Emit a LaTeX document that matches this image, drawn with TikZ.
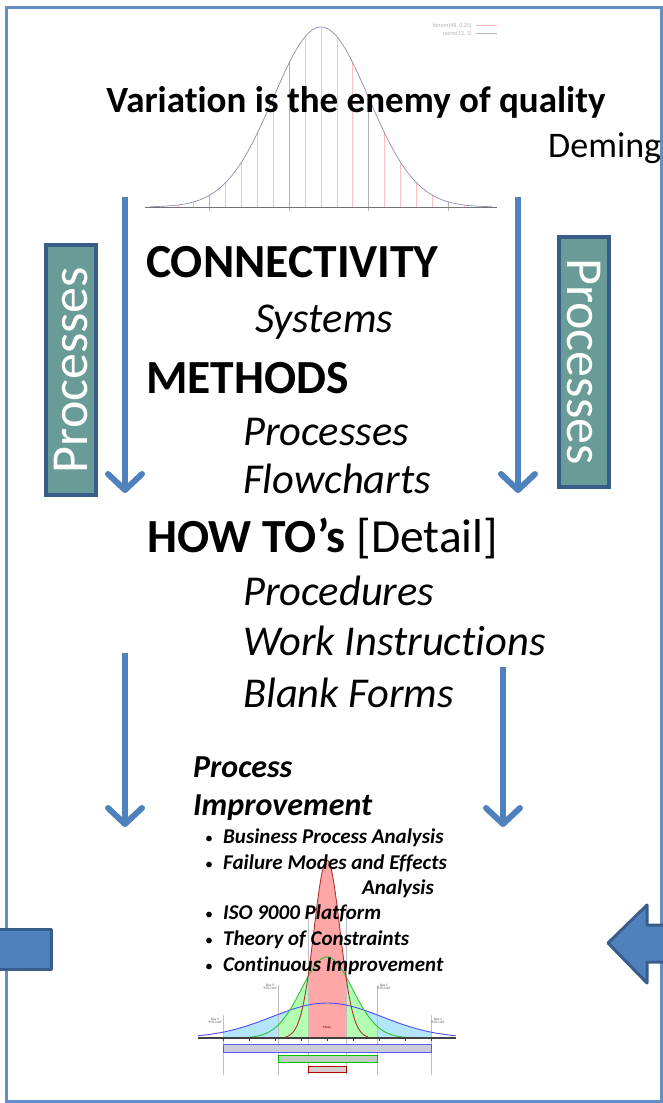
\documentclass[tikz,border=0pt]{standalone}
\usepackage{fontspec}
\setmainfont{Carlito}[Ligatures=NoCommon]
\usetikzlibrary{arrows.meta}
\newcommand{\fsz}[1]{\fontsize{#1}{#1}\selectfont}
\definecolor{arrowblue}{HTML}{4F81BD}
\definecolor{rimblue}{HTML}{385D8A}
\definecolor{procteal}{HTML}{6A9C97}

\begin{document}
\begin{tikzpicture}[x=1pt, y=-1pt,
	declare function={bell(\p,\m,\w,\h)=\h*exp(-0.5*((\p-\m)/\w)^2);},
	txt/.style={anchor=base west, inner sep=0pt},
	flow/.style={draw=arrowblue, line width=6pt, -{Straight Barb[length=16pt, width=34pt, round]}},
	procbox/.style={draw=rimblue, line width=4pt, fill=procteal, text=white, inner sep=0pt,
		minimum width=250pt, minimum height=50pt, font=\fsz{52}},
	tiny/.style={inner sep=0pt, align=center, font=\fsz{3.5}, text=black!70}]
	\useasboundingbox (0,0) rectangle (663,1103);
	% frame
	\draw[arrowblue!90, line width=3pt] (6,7) rectangle (661,1101);

	% bell curve behind the title
	\foreach \k in {1,...,23}
		\draw[red!25, line width=.8pt] ({321+(\k-12)*15.9},207) -- ++(0,{-bell(\k,12,3,180)});
	\foreach \k in {5,10,15,20}
		\draw[black!30, line width=.6pt] ({321+(\k-12)*15.9},211) -- ++(0,{-4-bell(\k,12,3,180)});
	\draw[black!55, line width=.8pt] (145,207) -- (497,207);
	\draw[blue!30!black!45, line width=.7pt] plot[domain=150:492, samples=120] (\x, {207-bell(\x,321,47.7,180)});
	\node[inner sep=0pt, anchor=base east, font=\fsz{6}, text=black!30] (leg1) at (472,27) {binom(48, 0.25)};
	\node[inner sep=0pt, anchor=base east, font=\fsz{6}, text=black!30] (leg2) at (472,35) {norm(12, 3)};
	\draw[red!30] (476,25) -- (497,25);
	\draw[blue!30!black!30] (476,33) -- (497,33);

	\node[inner sep=0pt, anchor=base, font=\fsz{37}\bfseries] (title) at (356,112) {Variation is the enemy of quality};
	\node[txt, font=\fsz{36}] (deming) at (548,157) {Deming};

	% process boxes
	\node[procbox, rotate=90] (procL) at (71,370) {Processes};
	\node[procbox, rotate=-90] (procR) at (583.5,361.5) {Processes};

	% arrows
	\coordinate (ltop) at (125,197);
	\coordinate (lmid) at (125,493);
	\coordinate (rtop) at (518,197);
	\coordinate (rmid) at (518,493);
	\coordinate (llow) at (125,653);
	\coordinate (lend) at (125,827);
	\coordinate (rlow) at (503,667);
	\coordinate (rend) at (503,827);
	\draw[flow] (ltop) -- (lmid);
	\draw[flow] (rtop) -- (rmid);
	\draw[flow] (llow) -- (lend);
	\draw[flow] (rlow) -- (rend);

	% levels
	\node[txt, font=\fsz{47.5}\bfseries] (conn) at (146,277) {CONNECTIVITY};
	\node[txt, font=\fsz{42.5}\itshape] (sys) at (255,332) {Systems};
	\node[txt, font=\fsz{47.5}\bfseries] (meth) at (146,393) {METHODS};
	\node[txt, font=\fsz{42.5}\itshape] (proc) at (243,445) {Processes};
	\node[txt, font=\fsz{42.5}\itshape] (flowch) at (243,493) {Flowcharts};
	\node[txt, font=\fsz{47.5}] (howto) at (147,552) {\textbf{HOW TO’s} [Detail]};
	\node[txt, font=\fsz{42.5}\itshape] (pcd) at (243,605) {Procedures};
	\node[txt, font=\fsz{42.5}\itshape] (work) at (243,655) {Work Instructions};
	\node[txt, font=\fsz{42.5}\itshape] (blank) at (243,707) {Blank Forms};

	% spread of the process, day 1 / day 5 / mean
	\fill[cyan!30] (223,1038) -- plot[domain=223:431, samples=60] (\x, {1038-bell(\x,327,55,35)}) -- (431,1038) -- cycle;
	\fill[green!30] (278,1038) -- plot[domain=278:377, samples=60] (\x, {1038-bell(\x,327,25.5,81)}) -- (377,1038) -- cycle;
	\fill[red!35] (308,1038) -- plot[domain=308:346, samples=60] (\x, {1038-bell(\x,327,13,178)}) -- (346,1038) -- cycle;
	\foreach \xx/\yy in {223/1015, 431/1015, 278/985, 377/985, 308/905, 346/905}
		\draw[black!25, line width=.5pt] (\xx,\yy) -- (\xx,1075);
	\draw[blue!70, line width=.9pt] plot[domain=198:456, samples=80] (\x, {1038-bell(\x,327,55,35)});
	\draw[green!70!black!80, line width=.9pt] plot[domain=245:409, samples=80] (\x, {1038-bell(\x,327,25.5,81)});
	\draw[red!60!black!80, line width=.9pt] plot[domain=286:368, samples=80] (\x, {1038-bell(\x,327,13,178)});
	\draw[black!75, line width=1.5pt] (198,1038) -- (456,1038);
	\foreach \i in {0,...,8}
		\draw[black!75, line width=.6pt] ({223+26*\i},1038) -- ++(0,3);
	\draw[draw=blue!65, fill=blue!25!black!20!white, line width=1pt] (223,1044) rectangle (431,1052);
	\draw[draw=green!75!black, fill=green!20!black!25!white, line width=1pt] (278,1055) rectangle (377,1062);
	\draw[draw=red!70!black, fill=red!25!black!20!white, line width=1pt] (308,1066) rectangle (346,1072);
	\node[tiny] (d1L) at (215,1021) {Day 1\\95\% conf};
	\node[tiny] (d1R) at (438,1021) {Day 1\\95\% conf};
	\node[tiny] (d5L) at (270,987) {Day 5\\95\% conf};
	\node[tiny] (d5R) at (384,987) {Day 5\\95\% conf};
	\node[tiny, text=red!50!black] (mean) at (327,1027) {Mean};

	% improvement list
	\node[txt, font=\fsz{32}\bfseries\itshape] (pi1) at (193,777) {Process};
	\node[txt, font=\fsz{32}\bfseries\itshape] (pi2) at (193,815) {Improvement};
	\foreach \yy in {843, 869, 919, 945, 971}
		\node[txt, font=\fsz{16}] at (205,\yy) {\textbullet};
	\node[txt, font=\fsz{21}\bfseries\itshape] (bpa) at (223,843) {Business Process Analysis};
	\node[txt, font=\fsz{21}\bfseries\itshape] (fmea) at (223,869) {Failure Modes and Effects};
	\node[txt, font=\fsz{21}\bfseries\itshape, anchor=base east] (fmea2) at (434,894) {Analysis};
	\node[txt, font=\fsz{21}\bfseries\itshape] (iso) at (223,919) {ISO 9000 Platform};
	\node[txt, font=\fsz{21}\bfseries\itshape] (toc) at (223,945) {Theory of Constraints};
	\node[txt, font=\fsz{21}\bfseries\itshape] (ci) at (223,971) {Continuous Improvement};

	% side block arrows
	\draw[fill=arrowblue, draw=rimblue, line width=3pt, line join=round] (-5,929) rectangle (51,969);
	\draw[fill=arrowblue, draw=rimblue, line width=3pt, line join=round] (608,943) -- (647,905) -- (647,925) -- (670,925) -- (670,962) -- (647,962) -- (647,983) -- cycle;
\end{tikzpicture}
\end{document}
